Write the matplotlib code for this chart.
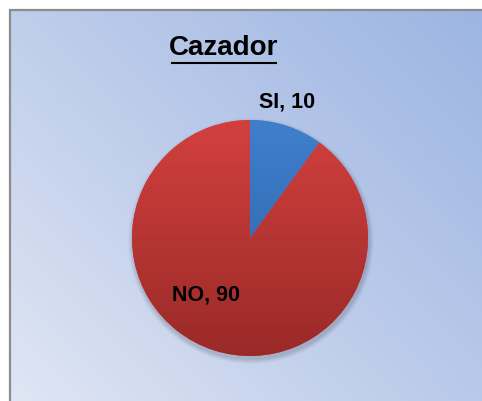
import numpy as np
import matplotlib
matplotlib.use("Agg")
from matplotlib import pyplot as plt
from matplotlib.patches import Rectangle, Circle
from matplotlib.colors import LinearSegmentedColormap

TITLE = "Cazador"
labels = ["SI", "NO"]
values = [10, 90]
colors_top = ["#3f7fcc", "#d2403e"]
colors_bot = ["#2c60a6", "#9a2a28"]

W, H = 482, 402
plt.rcParams["font.family"] = ["Liberation Sans Narrow", "Liberation Sans", "DejaVu Sans"]

fig = plt.figure(figsize=(W / 100, H / 100), dpi=100)
ax = fig.add_axes([0, 0, 1, 1])

# background gradient: light bottom-left -> blue top-right
xx, yy = np.meshgrid(np.linspace(0, 1, 200), np.linspace(0, 1, 200))
t = (xx * 0.55 + yy * 0.45)
bg = LinearSegmentedColormap.from_list("bg", ["#dfe6f4", "#bccbea", "#9cb5e2"])
ax.imshow(t, cmap=bg, origin="lower", extent=(9.5, W, 0, H - 10.5),
          aspect="auto", zorder=0)
ax.add_patch(Rectangle((9.5, -5), W, H - 10.5 + 5, facecolor="none",
                       edgecolor="#8c8c8c", lw=1.6, zorder=5))

cx, cy, r = 250, H - 239, 118

# soft shadow
for i, a in enumerate(np.linspace(0.05, 0.02, 6)):
    ax.add_patch(Circle((cx + 1, cy - 3), r + 1 + i * 0.8, color="#2a2a3a",
                        alpha=a, lw=0, zorder=1))

wedges, texts = ax.pie(values, startangle=90, counterclock=False,
                       center=(cx, cy), radius=r, colors=colors_top,
                       wedgeprops=dict(lw=0), frame=True)
ax.set_xlim(0, W)
ax.set_ylim(0, H)
ax.set_aspect("equal")
ax.axis("off")

for w, ct, cb in zip(wedges, colors_top, colors_bot):
    w.set_zorder(2)
    cmap = LinearSegmentedColormap.from_list("g", [cb, ct])
    grad = np.linspace(0, 1, 100).reshape(-1, 1)
    im = ax.imshow(grad, cmap=cmap, origin="lower",
                   extent=(cx - r, cx + r, cy - r, cy + r), aspect="auto", zorder=3)
    im.set_clip_path(w)

# data labels
label_pos = [(1.2, 75), (0.6, 232)]
for (d, ang), l, v in zip(label_pos, labels, values):
    x = cx + d * r * np.cos(np.radians(ang))
    y = cy + d * r * np.sin(np.radians(ang))
    ax.text(x, y, f"{l}, {v}", ha="center", va="center", fontsize=15.5,
            fontweight="bold", color="black", zorder=6)

ax.text(224, H - 48, TITLE, ha="center", va="center", fontsize=20,
        fontweight="bold", color="black", zorder=6)
ax.plot([172, 276], [H - 64, H - 64], color="black", lw=1.5, zorder=6)

fig.savefig("out.png", dpi=100, facecolor="white")
